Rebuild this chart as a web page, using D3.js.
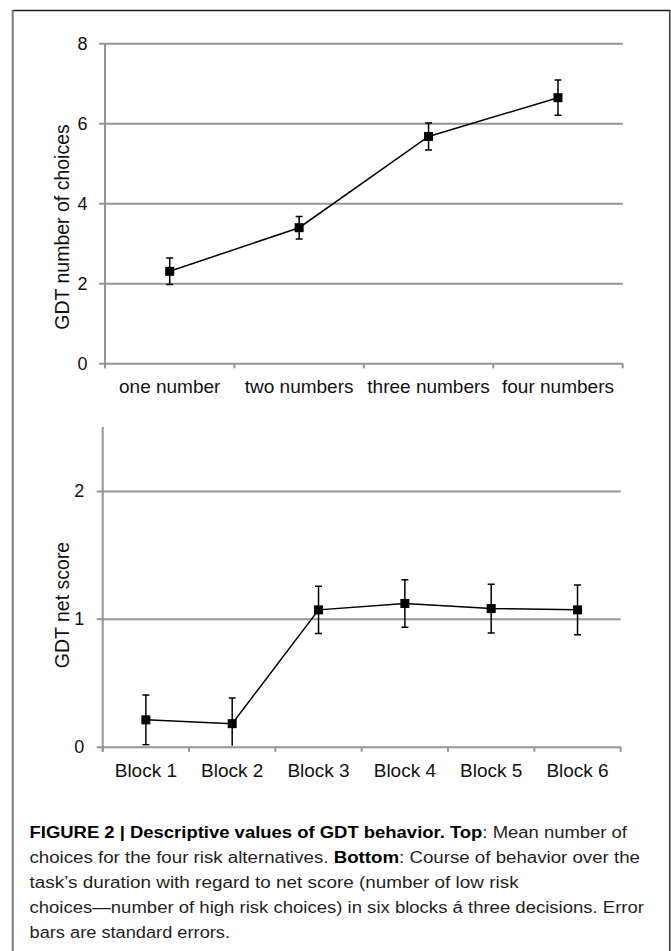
<!DOCTYPE html>
<html>
<head>
<meta charset="utf-8">
<script src="https://cdn.jsdelivr.net/npm/d3@7"></script>
<style>
  html, body { margin: 0; padding: 0; background: #fff; }
  svg { display: block; }
  text { font-family: "Liberation Sans", Arial, sans-serif; }
</style>
</head>
<body>
<svg id="chart" width="671" height="951"></svg>
<script>
// ---------- data ----------
const topCategories = ["one number", "two numbers", "three numbers", "four numbers"];
const topMeans = [2.30, 3.39, 5.67, 6.64];
const topErrors = [0.33, 0.28, 0.34, 0.44];
const topTicks = [0, 2, 4, 6, 8];
const topYLabel = "GDT number of choices";

const bottomCategories = ["Block 1", "Block 2", "Block 3", "Block 4", "Block 5", "Block 6"];
const bottomMeans = [0.21, 0.18, 1.07, 1.12, 1.08, 1.07];
const bottomErrors = [0.195, 0.20, 0.185, 0.185, 0.19, 0.195];
const bottomTicks = [0, 1, 2];
const bottomYLabel = "GDT net score";

const captionLines = [
  [["FIGURE 2 | Descriptive values of GDT behavior. Top", true], [": Mean number of", false]],
  [["choices for the four risk alternatives. ", false], ["Bottom", true], [": Course of behavior over the", false]],
  [["task\u2019s duration with regard to net score (number of low risk", false]],
  [["choices\u2014number of high risk choices) in six blocks \u00e1 three decisions. Error", false]],
  [["bars are standard errors.", false]]
];

// ---------- drawing ----------
const svg = d3.select("#chart");
const GRID = "#959595";

// frame
svg.append("line").attr("x1", 12.7).attr("x2", 670).attr("y1", 10.5).attr("y2", 10.5)
  .attr("stroke", "#1a1a1a").attr("stroke-width", 1.5);
svg.append("line").attr("x1", 12.7).attr("x2", 12.7).attr("y1", 10).attr("y2", 951)
  .attr("stroke", "#7a7a7a").attr("stroke-width", 2);
svg.append("line").attr("x1", 669.8).attr("x2", 669.8).attr("y1", 10).attr("y2", 951)
  .attr("stroke", "#333").attr("stroke-width", 1.5);

function panel(cfg) {
  const g = svg.append("g");
  const x = d3.scaleBand().domain(cfg.categories).range([cfg.left, cfg.right]);
  const y = d3.scaleLinear().domain(cfg.domain).range([cfg.bottom, cfg.top]);

  // gridlines + y tick labels
  const yAxis = d3.axisLeft(y).tickValues(cfg.ticks).tickFormat(d3.format("d"))
    .tickSize(-(cfg.right - (cfg.left - 6))).tickPadding(cfg.tickPad);
  const ya = g.append("g").attr("transform", `translate(${cfg.left - 6},0)`).call(yAxis);
  ya.select(".domain").remove();
  ya.selectAll(".tick line").attr("stroke", GRID).attr("stroke-width", 2);
  ya.selectAll(".tick text").attr("font-size", 18).attr("fill", "#111")
    .attr("font-family", "Liberation Sans, Arial, sans-serif");

  // vertical y axis line
  g.append("line").attr("x1", cfg.left).attr("x2", cfg.left)
    .attr("y1", cfg.axisTop).attr("y2", cfg.bottom + 5)
    .attr("stroke", GRID).attr("stroke-width", 2);

  // category boundary ticks
  const bounds = cfg.categories.map(c => x(c)).concat([x(cfg.categories[cfg.categories.length - 1]) + x.bandwidth()]);
  g.selectAll("line.btick").data(bounds).join("line").attr("class", "btick")
    .attr("x1", d => d).attr("x2", d => d).attr("y1", cfg.bottom).attr("y2", cfg.bottom + 5)
    .attr("stroke", GRID).attr("stroke-width", 2);

  // category labels
  const xAxis = d3.axisBottom(x).tickSize(0).tickPadding(0);
  const xa = g.append("g").attr("transform", `translate(0,${cfg.bottom})`).call(xAxis);
  xa.select(".domain").remove();
  xa.selectAll(".tick text").attr("font-size", 19).attr("fill", "#111")
    .attr("dy", null).attr("y", cfg.labelBaseline - cfg.bottom)
    .attr("font-family", "Liberation Sans, Arial, sans-serif");

  // y title
  g.append("text").attr("transform", `translate(${cfg.titleX},${cfg.titleY}) rotate(-90)`)
    .attr("text-anchor", "middle").attr("font-size", 19.5).attr("fill", "#111")
    .text(cfg.yLabel);

  const cx = c => x(c) + x.bandwidth() / 2;
  const pts = cfg.categories.map((c, i) => ({ c, m: cfg.means[i], e: cfg.errors[i] }));

  // clip for error bars
  const clipId = "clip" + cfg.id;
  svg.append("clipPath").attr("id", clipId).append("rect")
    .attr("x", cfg.left).attr("y", cfg.axisTop).attr("width", cfg.right - cfg.left)
    .attr("height", cfg.bottom - cfg.axisTop - 1);

  // line
  g.append("path").datum(pts)
    .attr("d", d3.line().x(d => cx(d.c)).y(d => y(d.m)))
    .attr("fill", "none").attr("stroke", "#000").attr("stroke-width", 1.5);

  // error bars
  const eb = g.append("g").attr("clip-path", `url(#${clipId})`);
  const cap = 3.5;
  eb.selectAll("line.v").data(pts).join("line").attr("class", "v")
    .attr("x1", d => cx(d.c)).attr("x2", d => cx(d.c))
    .attr("y1", d => y(d.m + d.e)).attr("y2", d => y(d.m - d.e))
    .attr("stroke", "#000").attr("stroke-width", 1.5);
  eb.selectAll("line.t").data(pts).join("line").attr("class", "t")
    .attr("x1", d => cx(d.c) - cap).attr("x2", d => cx(d.c) + cap)
    .attr("y1", d => y(d.m + d.e)).attr("y2", d => y(d.m + d.e))
    .attr("stroke", "#000").attr("stroke-width", 1.5);
  eb.selectAll("line.b").data(pts).join("line").attr("class", "b")
    .attr("x1", d => cx(d.c) - cap).attr("x2", d => cx(d.c) + cap)
    .attr("y1", d => y(d.m - d.e)).attr("y2", d => y(d.m - d.e))
    .attr("stroke", "#000").attr("stroke-width", 1.5);

  // markers
  const ms = 9;
  g.selectAll("rect.m").data(pts).join("rect").attr("class", "m")
    .attr("x", d => cx(d.c) - ms / 2).attr("y", d => y(d.m) - ms / 2)
    .attr("width", ms).attr("height", ms).attr("fill", "#000");
}

panel({
  id: "top", categories: topCategories, means: topMeans, errors: topErrors,
  ticks: topTicks, domain: [0, 8], left: 105, right: 622.7, top: 43.3, bottom: 363.3,
  axisTop: 43.3, tickPad: 11.5, labelBaseline: 393.5, titleX: 68.5, titleY: 227,
  yLabel: topYLabel
});

panel({
  id: "bot", categories: bottomCategories, means: bottomMeans, errors: bottomErrors,
  ticks: bottomTicks, domain: [0, 2.5], left: 102.7, right: 620.7, top: 427, bottom: 746.7,
  axisTop: 427, tickPad: 12.5, labelBaseline: 776.7, titleX: 69, titleY: 605,
  yLabel: bottomYLabel
});

// caption
const capEnds = [627, 640, 518.6, 644, 230];
const capX = 29.5;
captionLines.forEach((parts, i) => {
  const t = svg.append("text").attr("x", capX).attr("y", 838.3 + i * 24.9)
    .attr("font-size", 16).attr("fill", "#231f20")
    .attr("textLength", capEnds[i] - capX).attr("lengthAdjust", "spacingAndGlyphs");
  parts.forEach(([s, b]) => {
    t.append("tspan").attr("font-weight", b ? "bold" : "normal")
      .attr("fill", b ? "#000" : "#231f20").text(s);
  });
});
</script>
</body>
</html>
